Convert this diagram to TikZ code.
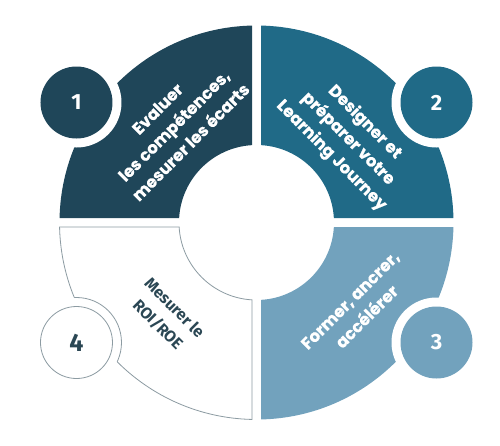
\documentclass[tikz,border=0pt]{standalone}
\usepackage{fontspec}
\setmainfont{Poppins}[BoldFeatures={FakeBold=0.7}]
\newfontfamily\numfont{Fira Sans}
\definecolor{qone}{RGB}{31,70,89}
\definecolor{qtwo}{RGB}{32,106,135}
\definecolor{qthree}{RGB}{114,162,189}
\definecolor{qline}{RGB}{140,155,162}
\definecolor{qtext}{RGB}{43,71,84}
\newcommand\qpath[1]{({#1+3.33}:77.5) -- ({#1+1.31}:197) arc[start angle={#1+1.31}, end angle={#1+88.69}, radius=197] -- ({#1+86.67}:77.5) arc[start angle={#1+86.67}, end angle={#1+3.33}, radius=77.5] -- cycle}
\tikzset{
  lbl/.style={align=center, text=white, font=\fontsize{16.5}{23.5}\selectfont\bfseries, inner sep=0pt},
  numc/.style={circle, minimum size=72pt, inner sep=0pt, text=white, font=\numfont\fontsize{22}{22}\selectfont\bfseries},
  gapc/.style={circle, minimum size=90pt, inner sep=0pt, fill=white},
  qedge/.style={draw=qline, line width=0.8pt}
}
\begin{document}
\begin{tikzpicture}[x=1pt,y=1pt]
\useasboundingbox (-256.5,-222.5) rectangle (243.5,222.5);
% quadrant 1
\fill[qone] \qpath{90};
% quadrant 2
\fill[qtwo] \qpath{0};
% quadrant 3
\fill[qthree] \qpath{270};
% quadrant 4
\fill[white] \qpath{180};
\draw[qedge] \qpath{180};
% gaps around numbers
\node[gapc] (g1) at (-180,120) {};
\node[gapc] (g2) at (180,120) {};
\node[gapc] (g3) at (180,-120) {};
\node[gapc] (g4) at (-180,-120) {};
\begin{scope}
  \clip \qpath{180};
  \draw[qedge] (-180,-120) circle (45);
\end{scope}
% numbers
\node[numc, fill=qone] (n1) at (-180,120) {1};
\node[numc, fill=qtwo] (n2) at (180,120) {2};
\node[numc, fill=qthree] (n3) at (180,-120) {3};
\node[numc, fill=white, qedge, text=qtext, font=\numfont\fontsize{25}{25}\selectfont\bfseries] (n4) at (-180,-120) {4};
% labels
\node[lbl, rotate=45] (t1) at (-82.5,97) {Evaluer\\les compétences,\\mesurer les écarts};
\node[lbl, rotate=-45] (t2) at (91.5,83.5) {Designer et\\préparer votre\\Learning Journey};
\node[lbl, rotate=45] (t3) at (102,-86) {Former, ancrer,\\accélérer};
\node[lbl, rotate=-45, text=qtext, font=\numfont\fontsize{16}{23.5}\selectfont\bfseries] (t4) at (-90.5,-94) {Mesurer le\\ROI/ROE};
\end{tikzpicture}
\end{document}
